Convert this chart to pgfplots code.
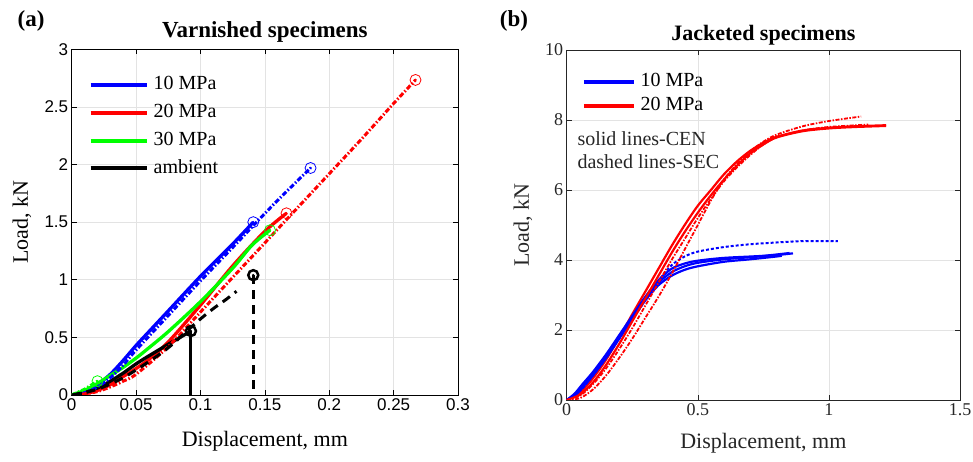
\documentclass[border=0pt]{standalone}
\usepackage{fontspec}
\setmainfont{Liberation Serif}
\newfontfamily\arialfont{Liberation Sans}
\usepackage{pgfplots}
\pgfplotsset{compat=1.18}
\definecolor{mblue}{rgb}{0,0,1}
\definecolor{mred}{rgb}{1,0,0}
\definecolor{mgreen}{rgb}{0,1,0}
\definecolor{frame}{rgb}{0.15,0.15,0.15}
\begin{document}
\begin{tikzpicture}
\useasboundingbox (0,0) rectangle (973pt,462pt);
% ---------------- (a) ----------------
\begin{axis}[
  at={(71.7pt,67pt)}, anchor=south west, scale only axis,
  width=386.3pt, height=345.7pt,
  xmin=0, xmax=0.3, ymin=0, ymax=3,
  xtick={0,0.05,0.1,0.15,0.2,0.25,0.3},
  xticklabels={0,0.05,0.1,0.15,0.2,0.25,0.3},
  ytick={0,0.5,1,1.5,2,2.5,3},
  yticklabels={0,0.5,1,1.5,2,2.5,3},
  ticklabel style={font=\arialfont\fontsize{17}{17}\selectfont},
  tick align=inside, major tick length=5pt,
  tick style={black, line width=0.6pt},
  axis line style={black, line width=0.8pt},
  grid=major, grid style={gray!22, line width=0.6pt},
  xlabel={Displacement, mm},
  ylabel={Load, kN},
  label style={font=\fontsize{22}{22}\selectfont},
  xlabel style={at={(axis description cs:0.5,0)}, anchor=center, yshift=-46pt},
  ylabel style={at={(axis description cs:-0.1287,0.5)}, anchor=center},
  title={\textbf{Varnished specimens}},
  title style={at={(axis description cs:0.5,1)}, anchor=center, yshift=11pt, font=\fontsize{23}{23}\selectfont},
  legend style={at={(axis description cs:0.044,0.925)}, anchor=north west, draw=none, fill=none,
    font=\fontsize{20}{20}\selectfont, inner sep=0pt, outer sep=0pt, row sep=8.3pt, column sep=4pt,
    nodes={inner sep=1pt, text height=13.5pt, text depth=4pt}},
  legend cell align=left,
  legend image code/.code={\draw[#1, line width=4pt] (0pt,0pt) -- (56pt,0pt);},
  clip mode=individual,
]
% solid (legend)
\addplot[mblue, line width=3.3pt, smooth, tension=0.5] coordinates {(0,0)(0.01,0.03)(0.02,0.09)(0.03,0.18)(0.04,0.3)(0.05,0.43)(0.06,0.55)(0.075,0.73)(0.1,1.03)(0.125,1.31)(0.141,1.5)};
\addlegendentry{10 MPa}
\addplot[mred, line width=3.3pt, smooth, tension=0.5] coordinates {(0,0)(0.01,0.01)(0.02,0.04)(0.03,0.09)(0.04,0.16)(0.05,0.23)(0.06,0.31)(0.075,0.46)(0.1,0.78)(0.125,1.12)(0.15,1.42)(0.1668,1.577)};
\addlegendentry{20 MPa}
\addplot[mgreen, line width=3.3pt, smooth, tension=0.5] coordinates {(0,0)(0.01,0.04)(0.02,0.1)(0.03,0.17)(0.04,0.24)(0.05,0.32)(0.06,0.41)(0.075,0.55)(0.1,0.81)(0.125,1.1)(0.14,1.3)(0.154,1.43)};
\addlegendentry{30 MPa}
\addplot[black, line width=3.3pt, smooth, tension=0.5] coordinates {(0,0)(0.01,0.02)(0.02,0.06)(0.03,0.12)(0.04,0.19)(0.05,0.27)(0.06,0.34)(0.075,0.44)(0.0926,0.555)};
\addlegendentry{ambient}
\addplot[black, line width=3pt, forget plot] coordinates {(0.0926,0.555)(0.0926,0)};
% dashed
\addplot[mblue, line width=3pt, dash pattern=on 5pt off 2pt on 1.5pt off 2pt, smooth, tension=0.5, forget plot] coordinates {(0,0)(0.01,0.02)(0.02,0.07)(0.03,0.15)(0.04,0.26)(0.05,0.39)(0.075,0.69)(0.1,0.99)(0.125,1.28)(0.141,1.47)(0.16,1.69)(0.1855,1.97)};
\addplot[mred, line width=3pt, dash pattern=on 5pt off 2pt on 1.5pt off 2pt, smooth, tension=0.5, forget plot] coordinates {(0,0)(0.01,0.01)(0.02,0.03)(0.03,0.07)(0.04,0.12)(0.05,0.18)(0.075,0.42)(0.1,0.72)(0.125,1.02)(0.15,1.32)(0.175,1.62)(0.2,1.92)(0.225,2.22)(0.25,2.53)(0.267,2.734)};
\addplot[mgreen, line width=3pt, dash pattern=on 5pt off 2pt on 1.5pt off 2pt, forget plot] coordinates {(0,0)(0.01,0.05)(0.02,0.12)};
\addplot[black, line width=3pt, dash pattern=on 9pt off 6pt, smooth, tension=0.5, forget plot] coordinates {(0,0)(0.02,0.05)(0.04,0.15)(0.06,0.29)(0.075,0.41)(0.09,0.56)(0.1,0.66)(0.11,0.75)(0.12,0.83)(0.128,0.9)};
\addplot[black, line width=3pt, dash pattern=on 9pt off 6pt, forget plot] coordinates {(0.141,1.04)(0.141,0)};
% end markers
\addplot[mblue, only marks, mark=o, mark size=5.5pt, line width=0.8pt, forget plot] coordinates {(0.141,1.5)(0.1855,1.97)};
\addplot[mred, only marks, mark=o, mark size=5.5pt, line width=0.8pt, forget plot] coordinates {(0.1668,1.577)(0.267,2.734)};
\addplot[mgreen, only marks, mark=o, mark size=5.5pt, line width=0.8pt, forget plot] coordinates {(0.154,1.43)(0.02,0.12)};
\addplot[black, only marks, mark=o, mark size=5pt, line width=2.5pt, forget plot] coordinates {(0.0926,0.555)(0.141,1.04)};
\addplot[mblue, only marks, mark=*, mark size=1pt, forget plot] coordinates {(0.141,1.5)(0.1855,1.97)};
\addplot[mred, only marks, mark=*, mark size=1pt, forget plot] coordinates {(0.1668,1.577)(0.267,2.734)};
\addplot[mgreen, only marks, mark=*, mark size=1pt, forget plot] coordinates {(0.154,1.43)(0.02,0.12)};
\addplot[black, only marks, mark=*, mark size=1pt, forget plot] coordinates {(0.0926,0.555)(0.141,1.04)};
\node[font=\bfseries\fontsize{23}{23}\selectfont] at (axis description cs:-0.105,1.082) {(a)};
\end{axis}
% ---------------- (b) ----------------
\begin{axis}[
  at={(566.7pt,62pt)}, anchor=south west, scale only axis,
  width=393.3pt, height=350pt,
  xmin=0, xmax=1.5, ymin=0, ymax=10,
  xtick={0,0.5,1,1.5}, xticklabels={0,0.5,1,1.5},
  ytick={0,2,4,6,8,10}, yticklabels={0,2,4,6,8,10},
  ticklabel style={font=\fontsize{18}{18}\selectfont, text=frame},
  tick align=inside, major tick length=5pt,
  tick style={frame, line width=0.6pt},
  axis line style={frame, line width=0.8pt},
  grid=major, grid style={gray!22, line width=0.6pt},
  xlabel={Displacement, mm},
  ylabel={Load, kN},
  label style={font=\fontsize{22}{22}\selectfont, text=frame},
  xlabel style={at={(axis description cs:0.5,0)}, anchor=center, yshift=-43pt},
  ylabel style={at={(axis description cs:-0.111,0.5)}, anchor=center},
  title={\textbf{Jacketed specimens}},
  title style={at={(axis description cs:0.5,1)}, anchor=center, yshift=9pt, font=\fontsize{22}{22}\selectfont},
  legend style={at={(axis description cs:0.039,0.937)}, anchor=north west, draw=none, fill=none,
    font=\fontsize{20}{20}\selectfont, inner sep=0pt, outer sep=0pt, row sep=4.5pt, column sep=4pt,
    nodes={inner sep=1pt, text height=13.5pt, text depth=4pt}},
  legend cell align=left,
  legend image code/.code={\draw[#1, line width=3.5pt] (0pt,0pt) -- (50pt,0pt);},
  clip mode=individual,
]
\addplot[mblue, line width=2.2pt, smooth, tension=0.5] coordinates {(0,0)(0.03,0.15)(0.06,0.4)(0.1,0.75)(0.15,1.25)(0.2,1.8)(0.25,2.35)(0.3,2.9)(0.35,3.35)(0.4,3.65)(0.45,3.82)(0.5,3.92)(0.6,4.02)(0.7,4.08)(0.8,4.14)(0.863,4.19)};
\addlegendentry{10 MPa}
\addplot[mred, line width=2.2pt, smooth, tension=0.5] coordinates {(0,0)(0.05,0.2)(0.1,0.62)(0.15,1.15)(0.2,1.78)(0.25,2.45)(0.3,3.1)(0.35,3.75)(0.4,4.4)(0.45,5.0)(0.5,5.55)(0.55,6.0)(0.6,6.45)(0.65,6.82)(0.7,7.12)(0.75,7.35)(0.8,7.52)(0.9,7.7)(1.0,7.78)(1.1,7.82)(1.218,7.85)};
\addlegendentry{20 MPa}
\addplot[mblue, line width=2.2pt, smooth, tension=0.5, forget plot] coordinates {(0,0)(0.03,0.12)(0.06,0.35)(0.1,0.7)(0.15,1.2)(0.2,1.75)(0.25,2.3)(0.3,2.85)(0.35,3.28)(0.4,3.55)(0.45,3.72)(0.5,3.82)(0.6,3.95)(0.7,4.02)(0.8,4.1)(0.82,4.12)};
\addplot[mblue, line width=2.2pt, smooth, tension=0.5, forget plot] coordinates {(0,0)(0.03,0.18)(0.06,0.45)(0.1,0.8)(0.15,1.3)(0.2,1.85)(0.25,2.4)(0.3,2.95)(0.35,3.42)(0.4,3.75)(0.45,3.9)(0.5,3.98)(0.6,4.06)(0.75,4.12)(0.85,4.2)};
\addplot[mblue, line width=2pt, dash pattern=on 3pt off 2pt, smooth, tension=0.5, forget plot] coordinates {(0,0)(0.05,0.25)(0.1,0.7)(0.15,1.2)(0.2,1.75)(0.25,2.3)(0.3,2.85)(0.35,3.4)(0.4,3.85)(0.45,4.1)(0.5,4.24)(0.6,4.37)(0.7,4.45)(0.8,4.5)(0.9,4.54)(1.034,4.54)};
\addplot[mred, line width=2.2pt, smooth, tension=0.5, forget plot] coordinates {(0,0)(0.05,0.15)(0.1,0.5)(0.15,1.0)(0.2,1.6)(0.25,2.25)(0.3,2.9)(0.35,3.55)(0.4,4.2)(0.45,4.8)(0.5,5.35)(0.55,5.85)(0.6,6.3)(0.65,6.7)(0.7,7.05)(0.75,7.3)(0.8,7.5)(0.9,7.68)(1.0,7.76)(1.1,7.8)(1.218,7.83)};
\addplot[mred, line width=1.8pt, dash pattern=on 4pt off 1.5pt on 1.5pt off 1.5pt, smooth, tension=0.5, forget plot] coordinates {(0,0)(0.05,0.05)(0.1,0.3)(0.15,0.7)(0.2,1.2)(0.25,1.75)(0.3,2.35)(0.35,2.95)(0.4,3.6)(0.45,4.3)(0.5,5.0)(0.55,5.7)(0.6,6.3)(0.65,6.75)(0.7,7.1)(0.75,7.38)(0.8,7.58)(0.9,7.82)(1.0,7.97)(1.123,8.1)};
\addplot[mred, line width=1.8pt, dash pattern=on 4pt off 1.5pt on 1.5pt off 1.5pt, smooth, tension=0.5, forget plot] coordinates {(0,0)(0.05,0.12)(0.1,0.45)(0.15,0.9)(0.2,1.45)(0.25,2.05)(0.3,2.7)(0.35,3.35)(0.4,4.0)(0.45,4.6)(0.5,5.2)(0.55,5.75)(0.6,6.25)(0.65,6.65)(0.7,7.0)(0.75,7.3)(0.8,7.5)(0.9,7.7)(1.0,7.8)(1.15,7.87)};
\node[font=\fontsize{20}{23}\selectfont, align=left, anchor=north west, inner sep=0pt, text=frame] at (axis description cs:0.027,0.766) {solid lines-CEN\\dashed lines-SEC};
\node[font=\bfseries\fontsize{23}{23}\selectfont] at (axis description cs:-0.134,1.083) {(b)};
\end{axis}
\end{tikzpicture}
\end{document}
